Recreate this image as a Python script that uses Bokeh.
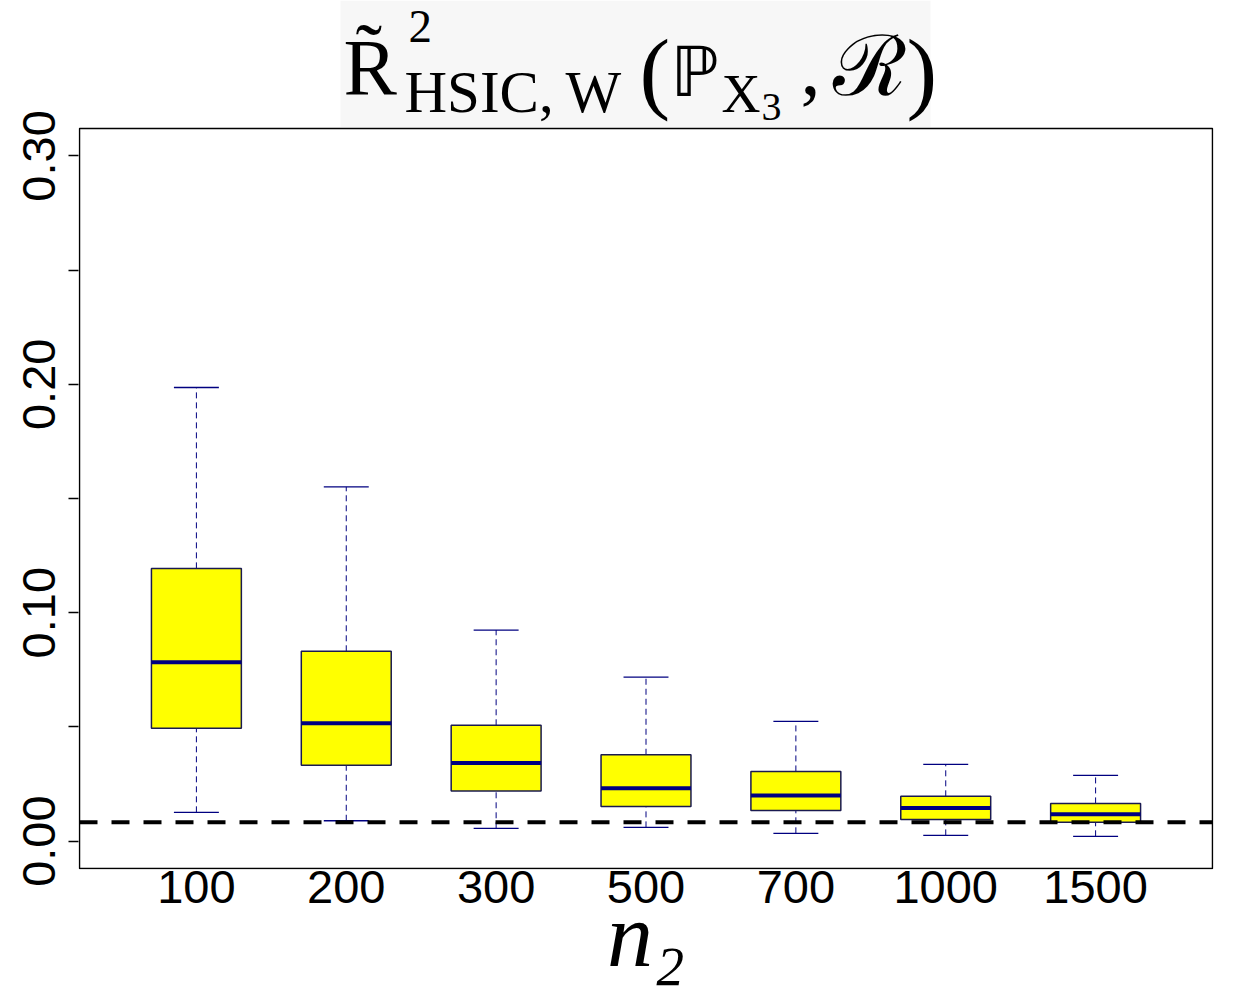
import numpy as np
from bokeh.plotting import figure
from bokeh.models import FixedTicker, Label, BoxAnnotation, Range1d, ColumnDataSource, PrintfTickFormatter
from bokeh.embed import file_html
from bokeh.resources import INLINE

# ---------------- data ----------------
n2_labels = ["100", "200", "300", "500", "700", "1000", "1500"]
whisker_low = [0.0126, 0.0089, 0.0056, 0.0060, 0.0034, 0.0025, 0.0021]
q1 = [0.0494, 0.0332, 0.0219, 0.0152, 0.0134, 0.0095, 0.0082]
median = [0.0783, 0.0516, 0.0342, 0.0231, 0.0200, 0.0145, 0.0117]
q3 = [0.1194, 0.0831, 0.0507, 0.0378, 0.0305, 0.0196, 0.0165]
whisker_high = [0.1986, 0.1551, 0.0924, 0.0718, 0.0524, 0.0336, 0.0288]
reference_level = 0.0082
y_major_ticks = [0.00, 0.10, 0.20, 0.30]
y_minor_ticks = [0.05, 0.15, 0.25]

# ---------------- layout ----------------
W, H = 1245, 989
BOX_L, BOX_R, BOX_T, BOX_B = 79, 1212, 128, 868     # plot box in page pixels
X0, X1 = 0.22, 7.78
Y0, Y1 = -0.012, 0.312
KX = (BOX_R - BOX_L) / (X1 - X0)
KY = (BOX_B - BOX_T) / (Y1 - Y0)
PAD = 1  # px of frame outside the plot box (so its border is not clipped)

x_range = Range1d(X0 - PAD / KX, X1 + PAD / KX)
y_range = Range1d(Y0 - PAD / KY, Y1 + BOX_T / KY)   # frame reaches the page top (title lives inside)

NAVY = "#000080"
pos = np.arange(1, len(n2_labels) + 1)
box_w = 0.6
cap_w = 0.3

src = ColumnDataSource(dict(
    x=pos, lo=whisker_low, q1=q1, med=median, q3=q3, hi=whisker_high,
    xl=pos - box_w / 2, xr=pos + box_w / 2,
    cl=pos - cap_w / 2, cr=pos + cap_w / 2,
))

p = figure(width=W, height=H, output_backend="svg", toolbar_location=None,
           x_range=x_range, y_range=y_range,
           min_border_left=BOX_L - PAD, min_border_right=W - BOX_R - PAD,
           min_border_top=0, min_border_bottom=H - BOX_B - PAD)
p.title = None
p.xgrid.visible = False
p.ygrid.visible = False
p.outline_line_color = None
p.background_fill_color = "white"
p.border_fill_color = "white"


def dx(px):
    return X0 + (px - BOX_L) / KX


def dy(py):
    return Y0 + (BOX_B - py) / KY


# light background behind the pasted formula image of the title
p.add_layout(BoxAnnotation(left=dx(340), right=dx(930), top=dy(0), bottom=dy(126.5),
                           fill_color="#f7f7f7", fill_alpha=1, line_color=None, level="underlay"))

# whiskers (dashed) and caps
p.segment(x0="x", y0="q3", x1="x", y1="hi", source=src, line_color=NAVY, line_width=1, line_dash="6 4")
p.segment(x0="x", y0="lo", x1="x", y1="q1", source=src, line_color=NAVY, line_width=1, line_dash="6 4")
p.segment(x0="cl", y0="hi", x1="cr", y1="hi", source=src, line_color=NAVY, line_width=1.3)
p.segment(x0="cl", y0="lo", x1="cr", y1="lo", source=src, line_color=NAVY, line_width=1.3)
# boxes
p.vbar(x="x", width=box_w, bottom="q1", top="q3", source=src,
       fill_color="#FFFF00", line_color="#1a1a50", line_width=1.5)
# medians
p.segment(x0="xl", y0="med", x1="xr", y1="med", source=src, line_color=NAVY, line_width=4, line_cap="butt")

# reference dashed line (only across the plot box)
p.segment(x0=[X0], y0=[reference_level], x1=[X1], y1=[reference_level],
          line_color="black", line_width=4, line_dash="18 14")

# plot box border
p.add_layout(BoxAnnotation(left=X0, right=X1, bottom=Y0, top=Y1, fill_alpha=0,
                           line_color="black", line_alpha=1, line_width=1.5))

# ---------------- axes ----------------
p.yaxis.ticker = FixedTicker(ticks=y_major_ticks, minor_ticks=y_minor_ticks)
p.yaxis.formatter = PrintfTickFormatter(format="%.2f")
p.yaxis.major_label_orientation = "vertical"
p.yaxis.major_label_text_font = "Liberation Sans"
p.yaxis.major_label_text_font_size = "47px"
p.yaxis.major_label_text_color = "black"
p.yaxis.major_tick_out = 10
p.yaxis.major_tick_in = 0
p.yaxis.minor_tick_out = 10
p.yaxis.minor_tick_in = 0
p.yaxis.major_tick_line_color = "black"
p.yaxis.minor_tick_line_color = "black"
p.yaxis.major_tick_line_width = 1.3
p.yaxis.minor_tick_line_width = 1.3
p.yaxis.axis_line_color = None
p.yaxis.major_label_standoff = 13

p.xaxis.ticker = FixedTicker(ticks=list(pos))
p.xaxis.major_label_overrides = {int(k): lab for k, lab in zip(pos, n2_labels)}
p.xaxis.major_label_text_font = "Liberation Sans"
p.xaxis.major_label_text_font_size = "47px"
p.xaxis.major_label_text_color = "black"
p.xaxis.major_tick_out = 0
p.xaxis.major_tick_in = 0
p.xaxis.minor_tick_line_color = None
p.xaxis.axis_line_color = None
p.xaxis.major_label_standoff = 1
p.xaxis.axis_label = "n\u2082"
p.xaxis.axis_label_text_font = "Liberation Serif"
p.xaxis.axis_label_text_font_style = "italic"
p.xaxis.axis_label_text_font_size = "92px"
p.xaxis.axis_label_text_color = "black"
p.xaxis.axis_label_standoff = -22

SERIF = "Liberation Serif"
SHIFT = 0.36  # Bokeh draws "alphabetic" labels this many em lower than asked


def lab(text, px, py, size, font=SERIF, style="normal", align="left"):
    p.add_layout(Label(x=dx(px), y=dy(py - SHIFT * size), text=text, text_font=font,
                       text_font_size=f"{size}px", text_font_style=style, text_color="black",
                       text_align=align, text_baseline="alphabetic"))


# title: R~^2_{HSIC,W}(P_{X_3}, R)
lab("R\u0303", 343, 96, 80)
lab("2", 408, 43, 47)
lab("HSIC,\u2009W", 404, 113, 59)
lab("(", 639, 104, 92)
lab("\u2119", 670, 96, 69, font="DejaVu Sans")
lab("X", 721, 113, 54)
lab("3", 761, 121, 40)
lab(",", 800, 96, 80)
lab("\u211B", 832, 96, 84, font="DejaVu Serif")
lab(")", 906, 104, 92)

open("out.html", "w").write(file_html(p, INLINE))
